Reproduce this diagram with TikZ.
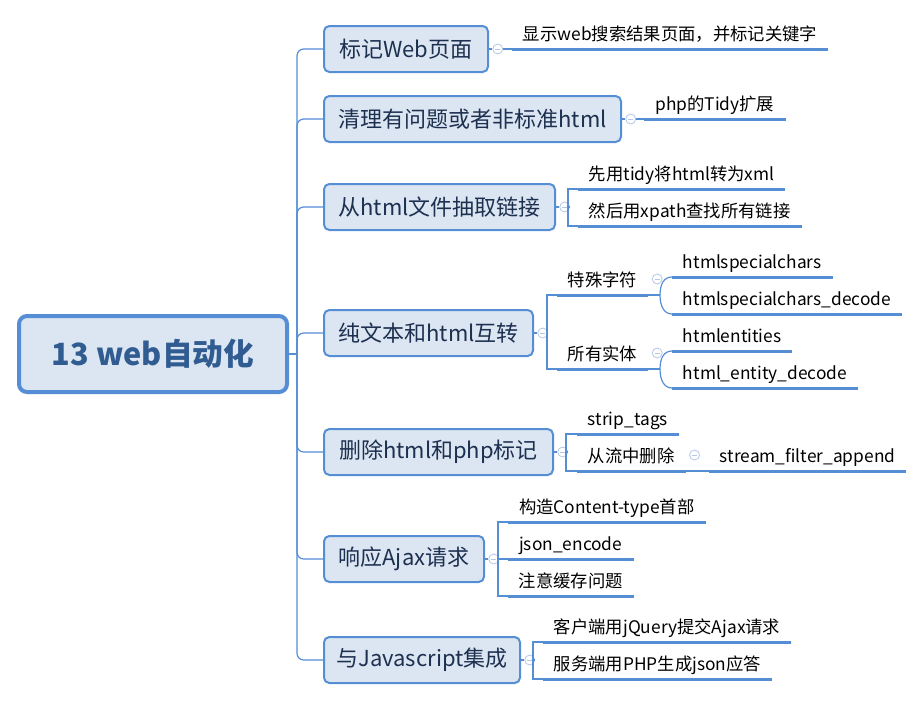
\documentclass[tikz,border=0pt]{standalone}
\usepackage{fontspec}
\setmainfont{Noto Sans CJK SC}
\usetikzlibrary{positioning,calc}
\definecolor{lineblue}{HTML}{558ED5}
\definecolor{boxfill}{HTML}{DCE6F2}
\definecolor{markblue}{HTML}{B4C7E7}
\definecolor{roottext}{HTML}{315C91}
\definecolor{toptext}{HTML}{1E3050}

\begin{document}
\begin{tikzpicture}[x=0.75pt,y=-0.75pt,
   root/.style={draw=lineblue,line width=3pt,rounded corners=6pt,fill=boxfill,minimum width=201pt,minimum height=57pt,font=\fontsize{23}{26}\selectfont\bfseries,text=roottext},
   topic/.style={draw=lineblue,line width=1.5pt,rounded corners=4pt,fill=boxfill,minimum height=34.5pt,anchor=west,font=\fontsize{16.5}{19}\selectfont,text=toptext},
   leaf/.style={anchor=south west,inner xsep=8pt,inner ysep=3pt,text height=10pt,text depth=3.5pt,font=\fontsize{13}{15}\selectfont},
   fold/.style={circle,draw=markblue,fill=white,line width=0.6pt,minimum size=7.5pt,inner sep=0pt,
     path picture={\draw[markblue,line width=0.6pt] ([xshift=-2pt]path picture bounding box.center) -- ([xshift=2pt]path picture bounding box.center);}},
   branch/.style={draw=lineblue,line width=0.9pt},
   uline/.style={draw=lineblue,line width=2.25pt}]
  \useasboundingbox (0,0) rectangle (920,701);

  % ---- central topic ----
  \node[root] (root) at (153,354) {13 web自动化};

  % ---- main topics ----
  \node[topic,minimum width=123pt]    (t1) at (323,49)  {标记Web页面};
  \node[topic,minimum width=222.75pt] (t2) at (323,119) {清理有问题或者非标准html};
  \node[topic,minimum width=173.25pt] (t3) at (323,207) {从html文件抽取链接};
  \node[topic,minimum width=156.75pt] (t4) at (323,333) {纯文本和html互转};
  \node[topic,minimum width=171.75pt] (t5) at (323,452) {删除html和php标记};
  \node[topic,minimum width=120pt]    (t6) at (323,559) {响应Ajax请求};
  \node[topic,minimum width=147pt]    (t7) at (323,660) {与Javascript集成};
  \foreach \n in {1,...,7}{\node[fold,right=2.5pt of t\n] (f\n) {};}

  % ---- subtopics ----
  \node[leaf,minimum width=232.5pt]  (L1a) at (512,49)  {显示web搜索结果页面，并标记关键字};
  \node[leaf,minimum width=105.75pt] (L2a) at (644,119) {php的Tidy扩展};
  \node[leaf,minimum width=154.5pt]  (L3a) at (578,189) {先用tidy将html转为xml};
  \node[leaf,minimum width=165.75pt] (L3b) at (578,226) {然后用xpath查找所有链接};
  \node[leaf,minimum width=67.5pt]   (L4a) at (557,295) {特殊字符};
  \node[leaf,minimum width=67.5pt]   (L4b) at (557,369) {所有实体};
  \node[leaf,minimum width=118.5pt]  (L4a1) at (672,277) {htmlspecialchars};
  \node[leaf,minimum width=171pt]    (L4a2) at (672,314) {htmlspecialchars\_decode};
  \node[leaf,minimum width=89.25pt]  (L4b1) at (672,351) {htmlentities};
  \node[leaf,minimum width=138pt]    (L4b2) at (672,388) {html\_entity\_decode};
  \node[leaf,minimum width=75pt]     (L5a) at (577,434) {strip\_tags};
  \node[leaf,minimum width=80.25pt]  (L5b) at (577,471) {从流中删除};
  \node[leaf,minimum width=144.75pt] (L5b1) at (709,471) {stream\_filter\_append};
  \node[leaf,minimum width=147.75pt] (L6a) at (508,522) {构造Content-type首部};
  \node[leaf,minimum width=93.75pt]  (L6b) at (508,559) {json\_encode};
  \node[leaf,minimum width=93pt]     (L6c) at (508,596) {注意缓存问题};
  \node[leaf,minimum width=177.75pt] (L7a) at (543,642) {客户端用jQuery提交Ajax请求};
  \node[leaf,minimum width=170.25pt] (L7b) at (543,679) {服务端用PHP生成json应答};
  \node[fold] (f4a) at ($(L4a.south east)+(9,-16)$) {};
  \node[fold] (f4b) at ($(L4b.south east)+(9,-16)$) {};
  \node[fold] (f5b) at ($(L5b.south east)+(9,-16)$) {};

  % ---- trunk ----
  \coordinate (hub) at (297,354);
  \draw[branch] (root.east) -- (hub);
  \foreach \n in {1,...,7}{\draw[branch,rounded corners=5pt] (hub) |- (t\n.west);}
  \foreach \n in {1,...,7}{\draw[branch] (t\n) -- (f\n);}

  % ---- subtopic elbows ----
  \draw[branch] (f1) -- (L1a.south west);
  \draw[branch] (f2) -- (L2a.south west);
  \coordinate (j3) at (568,207);
  \coordinate (j4) at (547,333);
  \coordinate (j5) at (566,452);
  \coordinate (j6) at (498,559);
  \coordinate (j7) at (533,660);
  \foreach \n in {3,...,7}{\draw[branch] (f\n) -- (j\n);}
  \foreach \j/\n in {j3/L3a,j3/L3b,j4/L4a,j4/L4b,j5/L5a,j5/L5b,j6/L6a,j6/L6b,j6/L6c,j7/L7a,j7/L7b}
    {\draw[branch] (\j) |- (\n.south west);}

  % ---- third level ----
  \coordinate (k4a) at (660,295);
  \coordinate (k4b) at (660,369);
  \draw[branch] (L4a.south east) -- (k4a);
  \draw[branch] (L4b.south east) -- (k4b);
  \foreach \k/\n/\d in {k4a/L4a1/-1,k4a/L4a2/1,k4b/L4b1/-1,k4b/L4b2/1}
    {\draw[branch] (\k) .. controls +(0,11*\d) and +(-8,0) .. (\n.south west);}
  \draw[branch] (L5b.south east) -- (L5b1.south west);

  % underlines
  \foreach \n in {L1a,L2a,L3a,L3b,L4a,L4b,L4a1,L4a2,L4b1,L4b2,L5a,L5b,L5b1,L6a,L6b,L6c,L7a,L7b}
    {\draw[uline] (\n.south west) -- (\n.south east);}
\end{tikzpicture}
\end{document}
